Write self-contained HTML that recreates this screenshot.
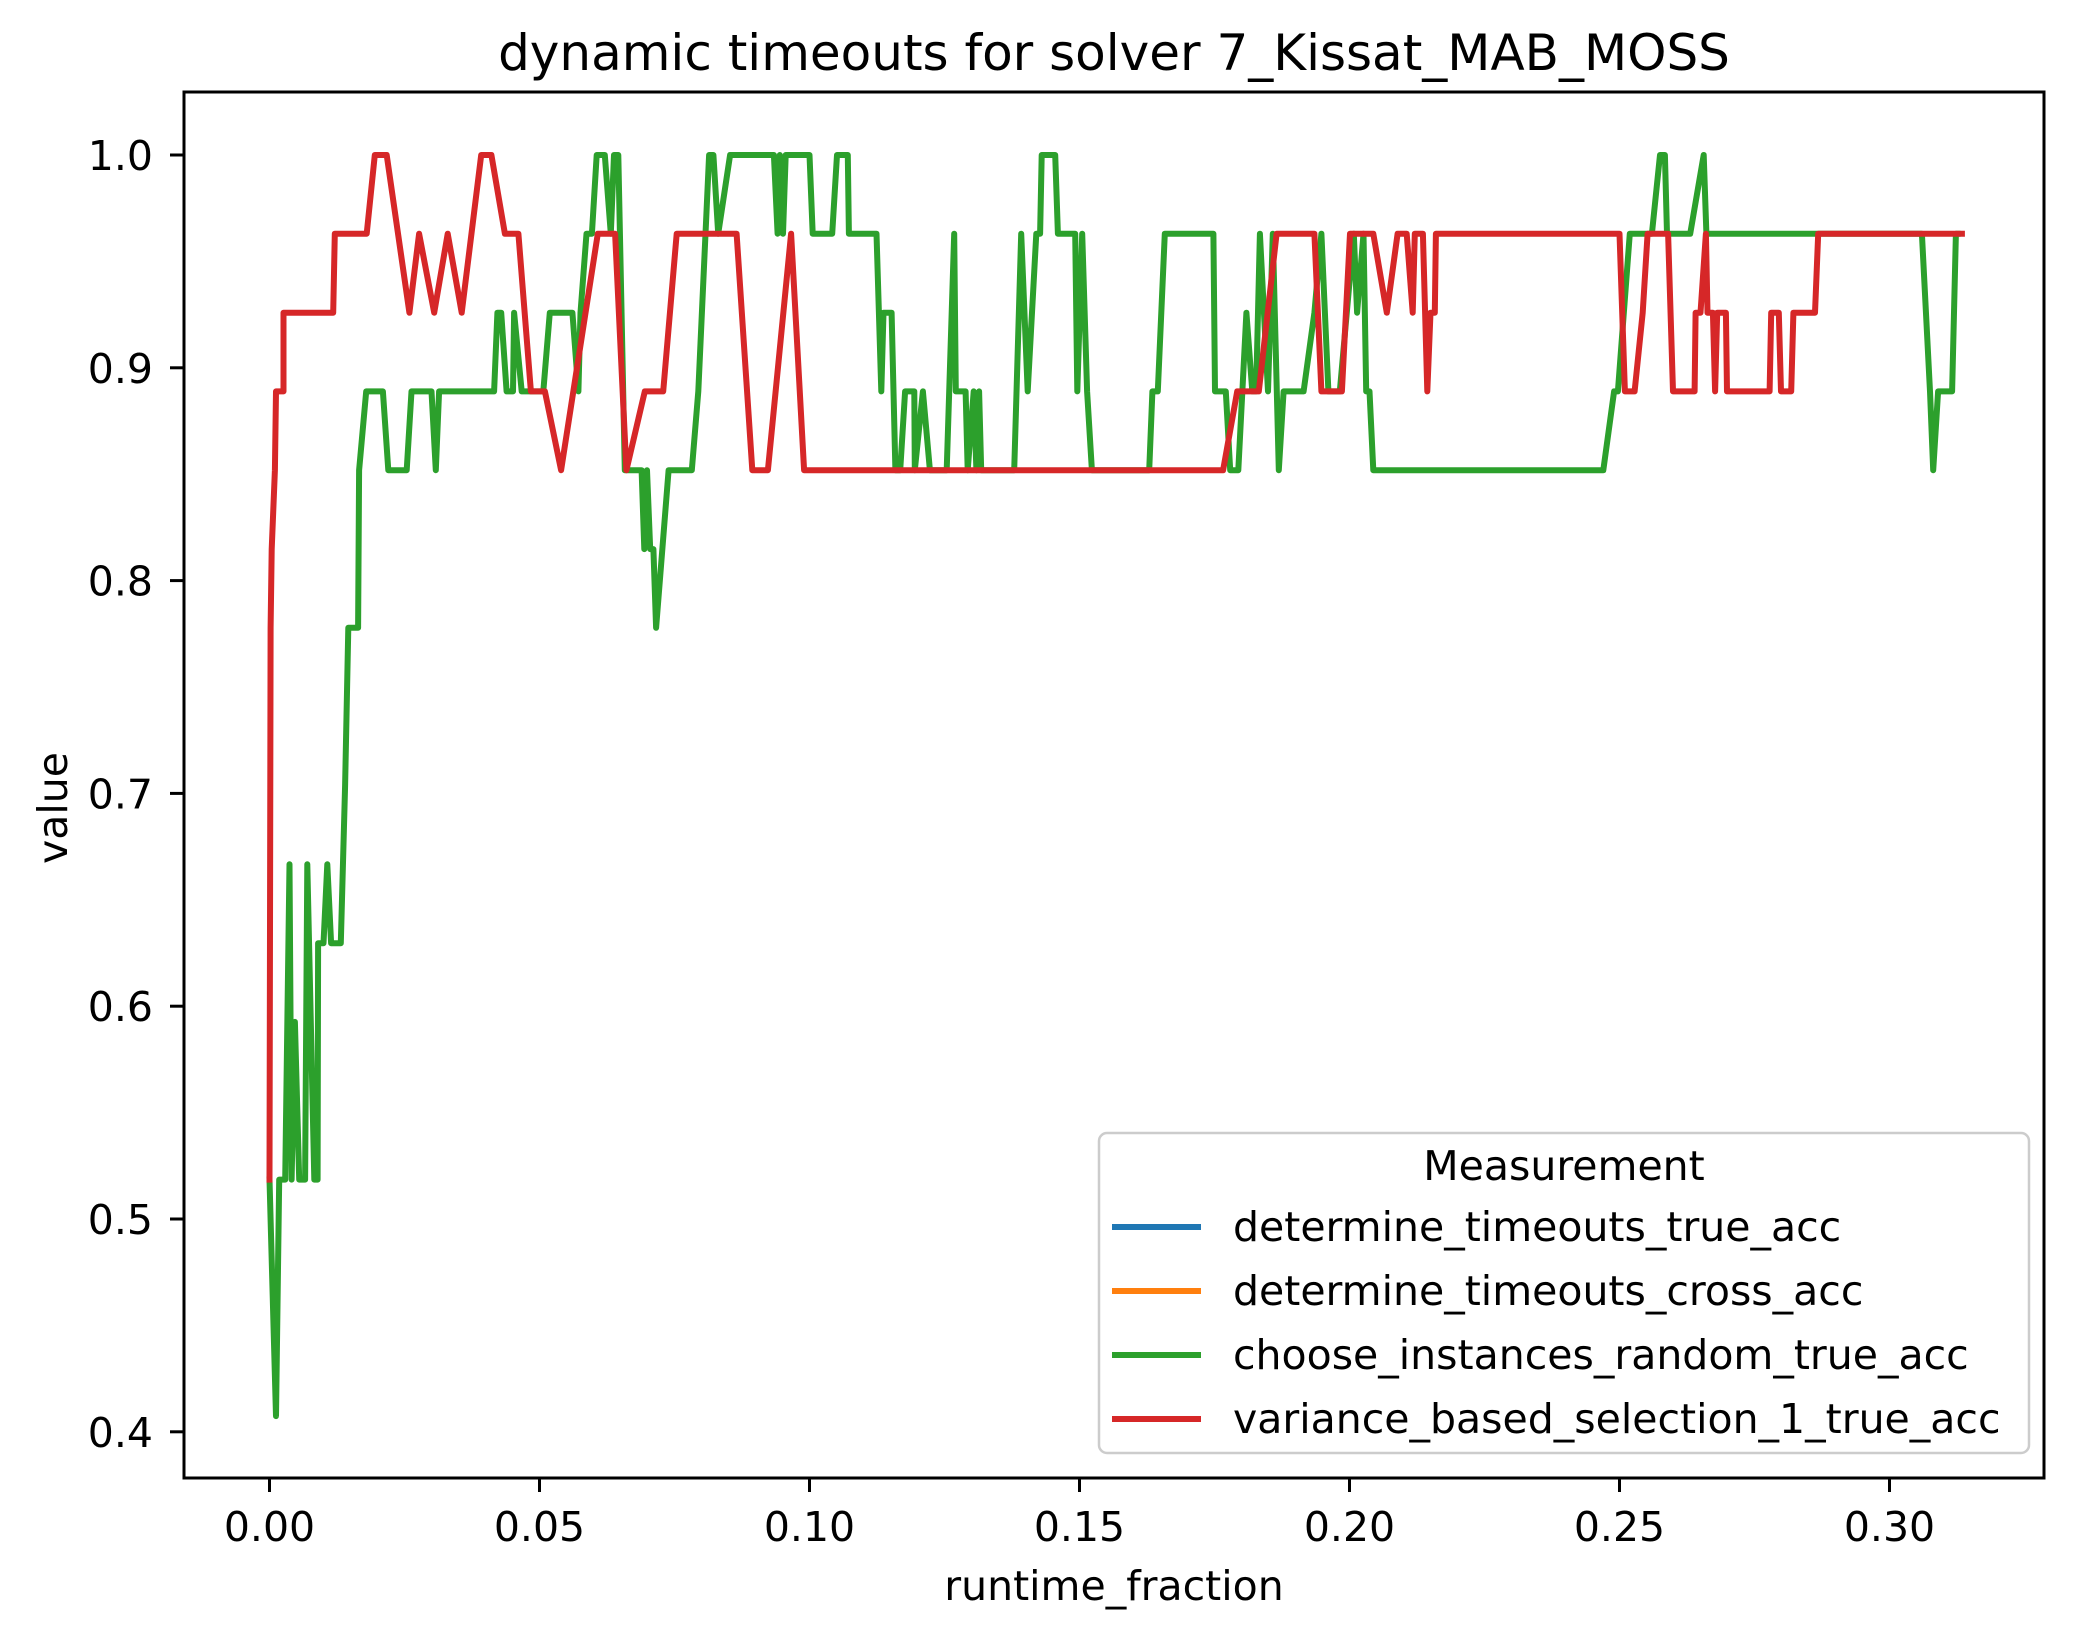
<!DOCTYPE html>
<html><head><meta charset="utf-8"><style>
html,body{margin:0;padding:0;background:#fff;}
svg{display:block;font-family:"DejaVu Sans","Liberation Sans",sans-serif;}
</style></head><body>
<svg id="chart" xmlns="http://www.w3.org/2000/svg" width="2074" height="1639" viewBox="0 0 2074 1639">
<rect x="0" y="0" width="2074" height="1639" fill="#fff"/>
<text x="1114" y="70" font-size="50" text-anchor="middle" fill="#000">dynamic timeouts for solver 7_Kissat_MAB_MOSS</text>
<g id="series"></g>
<g id="axes"></g>
<rect x="184" y="92" width="1860" height="1386" fill="none" stroke="#000" stroke-width="3"/>
<text x="1114" y="1600" font-size="41" text-anchor="middle" fill="#000">runtime_fraction</text>
<text x="67" y="808" font-size="41" text-anchor="middle" fill="#000" transform="rotate(-90 67 808)">value</text>
<g>
<rect x="1099" y="1133" width="930" height="320" rx="8" fill="#fff" fill-opacity="0.8" stroke="#ccc" stroke-width="2.5"/>
<text x="1564" y="1180" font-size="41" text-anchor="middle" fill="#000">Measurement</text>
<g><line x1="1112" y1="1227" x2="1201" y2="1227" stroke="#1f77b4" stroke-width="6"/><text x="1233" y="1241" font-size="41" fill="#000">determine_timeouts_true_acc</text></g>
<g><line x1="1112" y1="1291" x2="1201" y2="1291" stroke="#ff7f0e" stroke-width="6"/><text x="1233" y="1305" font-size="41" fill="#000">determine_timeouts_cross_acc</text></g>
<g><line x1="1112" y1="1355" x2="1201" y2="1355" stroke="#2ca02c" stroke-width="6"/><text x="1233" y="1369" font-size="41" fill="#000">choose_instances_random_true_acc</text></g>
<g><line x1="1112" y1="1419" x2="1201" y2="1419" stroke="#d62728" stroke-width="6"/><text x="1233" y="1433" font-size="41" fill="#000">variance_based_selection_1_true_acc</text></g>
</g>
</svg>
<script>
const xTicks = [0, 0.05, 0.10, 0.15, 0.20, 0.25, 0.30];
const xTickLabels = ["0.00","0.05","0.10","0.15","0.20","0.25","0.30"];
const yTicks = [0.4, 0.5, 0.6, 0.7, 0.8, 0.9, 1.0];
const yTickLabels = ["0.4","0.5","0.6","0.7","0.8","0.9","1.0"];

const redX = [0,0.0002,0.0004,0.0010,0.0012,0.0026,0.0026,0.0118,0.0121,0.0180,0.0195,0.0217,0.0259,0.0277,0.0305,0.0330,0.0356,0.0392,0.0411,0.0436,0.0461,0.0484,0.0510,0.0540,0.0608,0.0640,0.0661,0.0695,0.0729,0.0754,0.0865,0.0894,0.0923,0.0966,0.0990,0.1766,0.1792,0.1832,0.1865,0.1935,0.1948,0.1986,0.2001,0.2044,0.2069,0.2089,0.2106,0.2117,0.2121,0.2136,0.2144,0.2150,0.2158,0.2160,0.2500,0.2510,0.2528,0.2543,0.2552,0.2590,0.2599,0.2639,0.2641,0.2650,0.2660,0.2663,0.2673,0.2677,0.2681,0.2697,0.2699,0.2778,0.2781,0.2795,0.2799,0.2818,0.2822,0.2862,0.2868,0.3134];
const redY = [0.5185,0.7778,0.8148,0.8519,0.8889,0.8889,0.9259,0.9259,0.9630,0.9630,1.0,1.0,0.9259,0.9630,0.9259,0.9630,0.9259,1.0,1.0,0.9630,0.9630,0.8889,0.8889,0.8519,0.9630,0.9630,0.8519,0.8889,0.8889,0.9630,0.9630,0.8519,0.8519,0.9630,0.8519,0.8519,0.8889,0.8889,0.9630,0.9630,0.8889,0.8889,0.9630,0.9630,0.9259,0.9630,0.9630,0.9259,0.9630,0.9630,0.8889,0.9259,0.9259,0.9630,0.9630,0.8889,0.8889,0.9259,0.9630,0.9630,0.8889,0.8889,0.9259,0.9259,0.9630,0.9259,0.9259,0.8889,0.9259,0.9259,0.8889,0.8889,0.9259,0.9259,0.8889,0.8889,0.9259,0.9259,0.9630,0.9630];

const greenX = [0,0.0012,0.0018,0.0029,0.0037,0.0041,0.0047,0.0055,0.0066,0.0070,0.0083,0.0089,0.0090,0.0100,0.0107,0.0114,0.0132,0.0140,0.0146,0.0164,0.0166,0.0179,0.0210,0.0220,0.0254,0.0263,0.0300,0.0308,0.0314,0.0416,0.0422,0.0429,0.0439,0.0451,0.0453,0.0467,0.0507,0.0519,0.0561,0.0572,0.0576,0.0587,0.0597,0.0606,0.0621,0.0632,0.0638,0.0646,0.0658,0.0689,0.0694,0.0699,0.0705,0.0711,0.0716,0.0739,0.0782,0.0794,0.0814,0.0822,0.0831,0.0853,0.0934,0.0941,0.0945,0.0951,0.0956,0.1000,0.1006,0.1042,0.1051,0.1071,0.1073,0.1124,0.1133,0.1137,0.1152,0.1159,0.1168,0.1177,0.1194,0.1195,0.1210,0.1223,0.1254,0.1268,0.1271,0.1289,0.1293,0.1304,0.1309,0.1314,0.1318,0.1379,0.1392,0.1404,0.1420,0.1427,0.1430,0.1455,0.1460,0.1492,0.1496,0.1505,0.1514,0.1523,0.1629,0.1635,0.1645,0.1658,0.1748,0.1751,0.1771,0.1779,0.1794,0.1809,0.1820,0.1827,0.1834,0.1849,0.1858,0.1869,0.1878,0.1915,0.1935,0.1948,0.1961,0.1982,0.2008,0.2014,0.2026,0.2031,0.2037,0.2044,0.2470,0.2490,0.2497,0.2519,0.2560,0.2575,0.2584,0.2588,0.2631,0.2656,0.2661,0.3060,0.3075,0.3081,0.3090,0.3116,0.3123,0.3126];
const greenY = [0.5185,0.4074,0.5185,0.5185,0.6667,0.5185,0.5926,0.5185,0.5185,0.6667,0.5185,0.5185,0.6296,0.6296,0.6667,0.6296,0.6296,0.7037,0.7778,0.7778,0.8519,0.8889,0.8889,0.8519,0.8519,0.8889,0.8889,0.8519,0.8889,0.8889,0.9259,0.9259,0.8889,0.8889,0.9259,0.8889,0.8889,0.9259,0.9259,0.8889,0.9259,0.9630,0.9630,1.0,1.0,0.9630,1.0,1.0,0.8519,0.8519,0.8148,0.8519,0.8148,0.8148,0.7778,0.8519,0.8519,0.8889,1.0,1.0,0.9630,1.0,1.0,0.9630,1.0,0.9630,1.0,1.0,0.9630,0.9630,1.0,1.0,0.9630,0.9630,0.8889,0.9259,0.9259,0.8519,0.8519,0.8889,0.8889,0.8519,0.8889,0.8519,0.8519,0.9630,0.8889,0.8889,0.8519,0.8889,0.8519,0.8889,0.8519,0.8519,0.9630,0.8889,0.9630,0.9630,1.0,1.0,0.9630,0.9630,0.8889,0.9630,0.8889,0.8519,0.8519,0.8889,0.8889,0.9630,0.9630,0.8889,0.8889,0.8519,0.8519,0.9259,0.8889,0.8889,0.9630,0.8889,0.9630,0.8519,0.8889,0.8889,0.9259,0.9630,0.8889,0.8889,0.9630,0.9259,0.9630,0.8889,0.8889,0.8519,0.8519,0.8889,0.8889,0.9630,0.9630,1.0,1.0,0.9630,0.9630,1.0,0.9630,0.9630,0.8889,0.8519,0.8889,0.8889,0.9630,0.9630];

const NS = "http://www.w3.org/2000/svg";
function xScale(v){ return 269.5 + v * 5400; }
function yScale(v){ return 155 + (1 - v) * 2128; }

const axes = document.getElementById('axes');
const series = document.getElementById('series');

xTicks.forEach(function(t, i){
  const px = xScale(t);
  const tk = document.createElementNS(NS, 'line');
  tk.setAttribute('x1', px); tk.setAttribute('x2', px);
  tk.setAttribute('y1', 1478); tk.setAttribute('y2', 1492);
  tk.setAttribute('stroke', '#000'); tk.setAttribute('stroke-width', 3);
  
  
  axes.appendChild(tk);
  const lb = document.createElementNS(NS, 'text');
  lb.setAttribute('x', px); lb.setAttribute('y', 1541);
  lb.setAttribute('font-size', 41); lb.setAttribute('text-anchor', 'middle');
  lb.textContent = xTickLabels[i];
  
  
  axes.appendChild(lb);
});
yTicks.forEach(function(t, i){
  const py = yScale(t);
  const tk = document.createElementNS(NS, 'line');
  tk.setAttribute('x1', 170); tk.setAttribute('x2', 184);
  tk.setAttribute('y1', py); tk.setAttribute('y2', py);
  tk.setAttribute('stroke', '#000'); tk.setAttribute('stroke-width', 3);
  
  
  axes.appendChild(tk);
  const lb = document.createElementNS(NS, 'text');
  lb.setAttribute('x', 153); lb.setAttribute('y', py + 15);
  lb.setAttribute('font-size', 41); lb.setAttribute('text-anchor', 'end');
  lb.textContent = yTickLabels[i];
  
  
  axes.appendChild(lb);
});

function drawLine(xs, ys, color, name){
  const pts = xs.map(function(x, i){ return xScale(x).toFixed(1) + ',' + yScale(ys[i]).toFixed(1); }).join(' ');
  const pl = document.createElementNS(NS, 'polyline');
  pl.setAttribute('points', pts);
  pl.setAttribute('fill', 'none');
  pl.setAttribute('stroke', color);
  pl.setAttribute('stroke-width', 6);
  pl.setAttribute('stroke-linejoin', 'round');
  pl.setAttribute('stroke-linecap', 'square');
  
  
  series.appendChild(pl);
}
drawLine(greenX, greenY, '#2ca02c', 'choose-instances-random-line');
drawLine(redX, redY, '#d62728', 'variance-based-selection-line');
</script>
</body></html>
